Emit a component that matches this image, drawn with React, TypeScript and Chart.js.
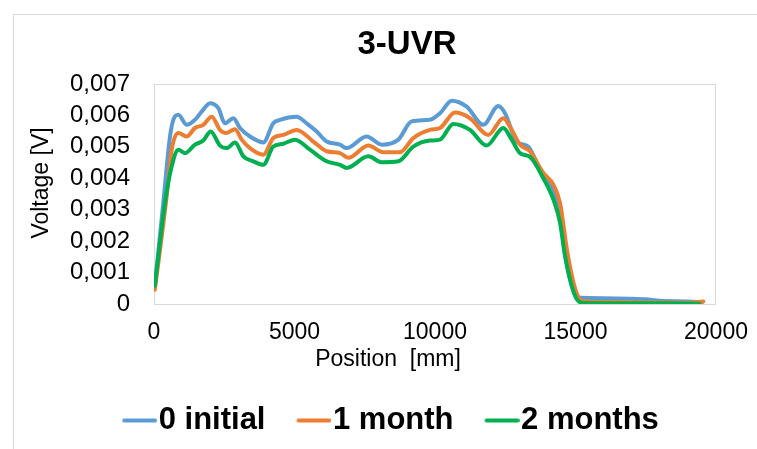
import React, { useEffect, useRef } from 'react';
import { Chart, registerables } from 'chart.js';

Chart.register(...registerables);

const chartTitle = '3-UVR';
const xAxisTitle = 'Position  [mm]';
const yAxisTitle = 'Voltage [V]';
const seriesNames = ['0 initial', '1 month', '2 months'];
const seriesColors = ['#5B9BD5', '#ED7D31', '#00B050'];
const xTickLabels = ['0', '5000', '10000', '15000', '20000'];
const yTickLabels = ['0', '0,001', '0,002', '0,003', '0,004', '0,005', '0,006', '0,007'];

const initialPos = [30, 332, 569, 688, 866, 1163, 1459, 1697, 1993, 2290, 2527, 2823, 3060, 3416, 3890, 4246, 4484, 5078, 5433, 5789, 6145, 6619, 6857, 7569, 8102, 8695, 9169, 9822, 10178, 10594, 11127, 11720, 12253, 12491, 12907, 13321, 13737, 14093, 14448, 14626, 14864, 15042, 15200, 16000, 17000, 17500, 18000, 19000, 19500];
const initialVolt = [0.00058, 0.00323, 0.00533, 0.00586, 0.00602, 0.0057, 0.00586, 0.00612, 0.00639, 0.00623, 0.00575, 0.00591, 0.0056, 0.00533, 0.00514, 0.00575, 0.00586, 0.00596, 0.00575, 0.00549, 0.00517, 0.00507, 0.00496, 0.00533, 0.00507, 0.00523, 0.00581, 0.00586, 0.00607, 0.00647, 0.00628, 0.0057, 0.0063, 0.00607, 0.00517, 0.005, 0.00428, 0.0038, 0.0028, 0.0016, 0.0006, 0.00022, 0.0002, 0.00018, 0.00017, 0.00015, 0.0001, 0.00008, 0.00005];

const oneMonthPos = [30, 451, 630, 866, 1163, 1459, 1755, 2053, 2349, 2562, 2883, 3121, 3416, 3890, 4246, 4602, 5078, 5670, 6145, 6619, 6915, 7626, 8160, 8754, 9228, 9822, 10178, 10712, 11246, 11897, 12431, 12729, 13025, 13381, 13855, 14210, 14448, 14700, 14950, 15150, 15400, 16500, 18000, 19000, 19550];
const oneMonthVolt = [0.00045, 0.00343, 0.00491, 0.00544, 0.00533, 0.0056, 0.0057, 0.00596, 0.00554, 0.00544, 0.00556, 0.00523, 0.00496, 0.00475, 0.00528, 0.00538, 0.00554, 0.00517, 0.00486, 0.0048, 0.00465, 0.00504, 0.00483, 0.00483, 0.00528, 0.00554, 0.0056, 0.00609, 0.00591, 0.00538, 0.00591, 0.00554, 0.00507, 0.00486, 0.00417, 0.0038, 0.00322, 0.0017, 0.0006, 0.00015, 0.00008, 0.00006, 0.00005, 0.00004, 0.00008];

const twoMonthsPos = [30, 391, 630, 866, 1103, 1459, 1755, 2017, 2349, 2587, 2883, 3179, 3535, 3890, 4246, 4602, 5018, 5552, 6145, 6619, 6857, 7626, 8102, 8695, 9228, 9822, 10178, 10651, 11246, 11838, 12431, 12729, 13025, 13381, 13855, 14210, 14448, 14626, 14864, 15042, 15267, 16500, 18000, 19400];
const twoMonthsVolt = [0.00058, 0.00322, 0.00438, 0.00491, 0.0048, 0.00507, 0.0052, 0.00549, 0.00504, 0.00496, 0.00514, 0.0047, 0.00454, 0.00443, 0.00501, 0.0051, 0.00523, 0.00491, 0.00454, 0.00443, 0.00433, 0.0047, 0.00451, 0.00454, 0.00501, 0.0052, 0.00523, 0.00573, 0.00554, 0.00504, 0.0056, 0.00523, 0.0048, 0.00468, 0.004, 0.00333, 0.0026, 0.00153, 0.00058, 0.00016, 0.00003, 0.00002, 0.00002, 0.00001];

const FONT = "'Liberation Sans', Arial, sans-serif";

const textPlugin = {
  id: 'customTexts',
  beforeDatasetsDraw(chart: any) {
    const { ctx, chartArea } = chart;
    ctx.save();
    ctx.strokeStyle = '#d9d9d9';
    ctx.lineWidth = 1;
    ctx.strokeRect(chartArea.left + 0.5, chartArea.top + 0.5, chartArea.width - 1, chartArea.height);
    ctx.restore();
  },
  afterDraw(chart: any) {
    const { ctx } = chart;
    ctx.save();
    ctx.fillStyle = '#000';
    ctx.textAlign = 'center';
    ctx.textBaseline = 'middle';
    ctx.font = `bold 33px ${FONT}`;
    ctx.fillText(chartTitle, 407, 45);
    ctx.font = `23px ${FONT}`;
    ctx.fillText(xAxisTitle, 388, 360);
    ctx.translate(42, 183);
    ctx.rotate(-Math.PI / 2);
    ctx.fillText(yAxisTitle, 0, 0);
    ctx.restore();
  },
};

function legendLine(color: string) {
  const c = document.createElement('canvas');
  c.width = 48;
  c.height = 8;
  const g = c.getContext('2d')!;
  g.strokeStyle = color;
  g.lineWidth = 4;
  g.lineCap = 'round';
  g.beginPath();
  g.moveTo(15, 4);
  g.lineTo(46, 4);
  g.stroke();
  return c;
}

export default function App() {
  const ref = useRef<HTMLCanvasElement>(null);

  useEffect(() => {
    const series = [
      [initialPos, initialVolt],
      [oneMonthPos, oneMonthVolt],
      [twoMonthsPos, twoMonthsVolt],
    ];
    const chart = new Chart(ref.current!, {
      type: 'line',
      data: {
        datasets: series.map(([pos, volt], i) => ({
          label: seriesNames[i],
          data: pos.map((x, j) => ({ x, y: volt[j] })),
          borderColor: seriesColors[i],
          backgroundColor: seriesColors[i],
          borderWidth: 4,
          pointRadius: 0,
          pointHoverRadius: 0,
          pointStyle: legendLine(seriesColors[i]) as any,
          cubicInterpolationMode: 'monotone' as const,
          borderCapStyle: 'round' as const,
          borderJoinStyle: 'round' as const,
          fill: false,
          order: 2 - i,
        })),
      },
      options: {
        animation: false,
        responsive: false,
        events: [],
        layout: { padding: { top: 84, bottom: 3, left: 0, right: 0 } },
        scales: {
          x: {
            type: 'linear',
            min: 0,
            max: 20000,
            grid: { display: false, drawTicks: false },
            border: { display: false },
            ticks: {
              stepSize: 5000,
              autoSkip: false,
              maxRotation: 0,
              padding: 15,
              color: '#000',
              font: { family: FONT, size: 23 },
              callback: (v: any) => xTickLabels[Math.round(Number(v) / 5000)],
            },
            afterFit: (s: any) => { s.height = 69; },
          },
          y: {
            type: 'linear',
            position: 'left',
            min: 0,
            max: 0.007,
            grid: { display: false, drawTicks: false },
            border: { display: false },
            ticks: {
              stepSize: 0.001,
              autoSkip: false,
              padding: 24,
              color: '#000',
              font: { family: FONT, size: 24 },
              callback: (v: any) => yTickLabels[Math.round(Number(v) / 0.001)],
            },
            afterFit: (s: any) => { s.width = 154; },
          },
          y2: {
            type: 'linear',
            position: 'right',
            grid: { display: false, drawTicks: false },
            border: { display: false },
            ticks: { display: false },
            afterFit: (s: any) => { s.width = 66; },
          },
        },
        plugins: {
          title: { display: false },
          tooltip: { enabled: false },
          legend: {
            display: true,
            position: 'bottom',
            labels: {
              usePointStyle: true,
              pointStyleWidth: 20,
              padding: 32,
              color: '#000',
              font: { family: FONT, size: 31, weight: 'bold' },
              sort: (a: any, b: any) => a.datasetIndex - b.datasetIndex,
            },
          },
        },
      } as any,
      plugins: [textPlugin],
    });
    return () => chart.destroy();
  }, []);

  return (
    <div style={{ position: 'fixed', left: 0, top: 0, width: 757, height: 449, overflow: 'hidden', background: '#fff' }}>
      <div style={{ position: 'absolute', left: 13, top: 14, width: 800, height: 500, border: '1px solid #d9d9d9' }} />
      <canvas ref={ref} width={782} height={449} style={{ position: 'absolute', left: 0, top: 0, width: 782, height: 449 }} />
    </div>
  );
}
